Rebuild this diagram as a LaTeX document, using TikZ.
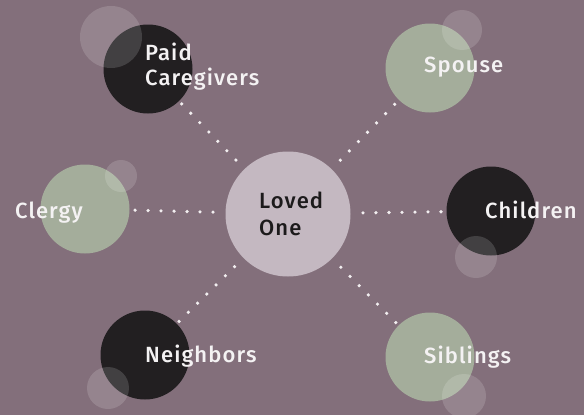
\documentclass[tikz,border=0pt]{standalone}
\usepackage{fontspec}
\setmainfont{Fira Sans}[BoldFont={* Medium}, LetterSpace=5]
\usetikzlibrary{calc}
\definecolor{bgc}{HTML}{836F7B}
\definecolor{centerc}{HTML}{C4B8C1}
\definecolor{darkc}{HTML}{221F21}
\definecolor{greenc}{HTML}{A4AD9B}
\definecolor{dotc}{HTML}{F2EEF0}
\definecolor{labc}{HTML}{F4F2F3}
\definecolor{ctxt}{HTML}{1C1A1B}
\tikzset{
  bigdisc/.style={circle, inner sep=0pt, minimum size=89pt},
  darkdisc/.style={bigdisc, fill=darkc},
  greendisc/.style={bigdisc, fill=greenc},
  glow/.style={fill=white, fill opacity=0.15},
  lab/.style={anchor=base west, inner sep=0pt, text=labc, font=\bfseries\fontsize{22}{26}\selectfont},
  clab/.style={anchor=base west, inner sep=0pt, text=ctxt, font=\bfseries\fontsize{22}{26}\selectfont},
  dotfill/.style={fill=dotc}
}
\begin{document}
\begin{tikzpicture}[x=1pt,y=-1pt]
\fill[bgc] (0,0) rectangle (584,415);
\useasboundingbox (0,0) rectangle (584,415);
% discs
\node[circle, inner sep=0pt, minimum size=125pt, fill=centerc] (center) at (288,214) {};
\node[darkdisc] (paid) at (148,69) {};
\node[greendisc] (spouse) at (430,68) {};
\node[greendisc] (clergy) at (85,209) {};
\node[darkdisc] (children) at (491,211) {};
\node[darkdisc] (neighbors) at (145,355) {};
\node[greendisc] (siblings) at (430,357) {};
% translucent small discs
\fill[glow] (111,37) circle (31pt);
\fill[glow] (462,30) circle (20pt);
\fill[glow] (121,176) circle (16pt);
\fill[glow] (476,257) circle (21pt);
\fill[glow] (108,388) circle (21pt);
\fill[glow] (464,396) circle (22pt);
% dotted connectors
\foreach \o in {paid,spouse,clergy,children,neighbors,siblings}{
  \foreach \d in {75,88,...,153}{
    \fill[dotfill] ($(center.center)!\d pt!(\o.center)$) circle (1.8pt);
  }
}
% labels
\node[lab] (tpaid) at (145,60) {Paid};
\node[lab] (tcare) at (145,85) {Caregivers};
\node[lab] (tspouse) at (424,72) {Spouse};
\node[lab] (tclergy) at (15,218) {Clergy};
\node[lab] (tchildren) at (485,218) {Children};
\node[lab] (tneigh) at (145,362) {Neighbors};
\node[lab] (tsib) at (424,363) {Siblings};
\node[clab] (tloved) at (259,208) {Loved};
\node[clab] (tone) at (259,235) {One};
\end{tikzpicture}
\end{document}
